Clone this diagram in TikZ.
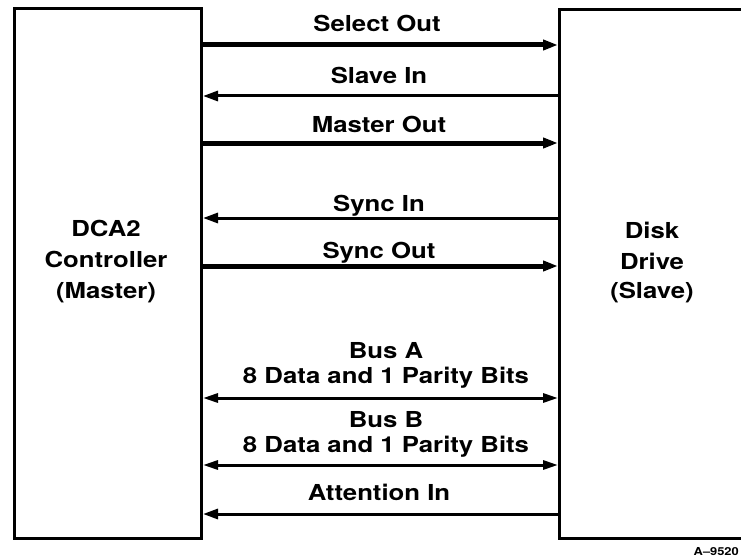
\documentclass[tikz,border=0pt]{standalone}
\usepackage{fontspec}
\setmainfont{TeX Gyre Heros}[FakeStretch=1.17]
\usetikzlibrary{arrows.meta}
\begin{document}
\begin{tikzpicture}[x=1pt,y=-1pt,
  lbl/.style={font=\fontsize{22}{26}\selectfont\bfseries, inner sep=0pt, anchor=base},
  tag/.style={font=\fontsize{11}{13}\selectfont\bfseries, inner sep=0pt, anchor=base east},
  unit/.style={draw, line width=3pt, inner sep=0pt},
  sig/.style={line width=3pt},
  sigthick/.style={line width=5pt},
  arrR/.style={-{Triangle[length=15pt,width=10pt]}},
  arrL/.style={{Triangle[length=15pt,width=10pt]}-},
  arrB/.style={{Triangle[length=15pt,width=9pt]}-{Triangle[length=15pt,width=9pt]}}
]
\useasboundingbox (0,0) rectangle (741,559);
\fill[white] (0,0) rectangle (741,559);
\clip (0,0) rectangle (741,559);

% units
\node[unit, minimum width=187pt, minimum height=530pt, anchor=north west] (master) at (13,7) {};
\node[unit, minimum width=200pt, minimum height=529pt, anchor=north west] (slave) at (558,8) {};

% unit texts
\node[lbl] (m1) at (106,236) {DCA2};
\node[lbl] (m2) at (106,267) {Controller};
\node[lbl] (m3) at (106,298) {(Master)};
\node[lbl] (s1) at (652,238) {Disk};
\node[lbl] (s2) at (652,269) {Drive};
\node[lbl] (s3) at (652,298) {(Slave)};

% signal rows
\coordinate (ySO) at (0,45);
\coordinate (ySI) at (0,96);
\coordinate (yMO) at (0,143);
\coordinate (ySyI) at (0,218);
\coordinate (ySyO) at (0,266);
\coordinate (yBA) at (0,398);
\coordinate (yBB) at (0,465);
\coordinate (yAI) at (0,514);

\draw[sigthick, arrR] (master.east |- ySO) -- (slave.west |- ySO);
\draw[sig, arrL] (master.east |- ySI) -- (slave.west |- ySI);
\draw[sigthick, arrR] (master.east |- yMO) -- (slave.west |- yMO);
\draw[sig, arrL] (master.east |- ySyI) -- (slave.west |- ySyI);
\draw[sigthick, arrR] (master.east |- ySyO) -- (slave.west |- ySyO);
\draw[sig, arrB] (master.east |- yBA) -- (slave.west |- yBA);
\draw[sig, arrB] (master.east |- yBB) -- (slave.west |- yBB);
\draw[sig, arrL] (master.east |- yAI) -- (slave.west |- yAI);

% signal labels
\node[lbl] (lSO) at (377,32) {Select Out};
\node[lbl] (lSI) at (379,84) {Slave In};
\node[lbl] (lMO) at (379,132) {Master Out};
\node[lbl] (lSyI) at (379,211) {Sync In};
\node[lbl] (lSyO) at (379,258) {Sync Out};
\node[lbl] (lBA1) at (386,358) {Bus A};
\node[lbl] (lBA2) at (386,383) {8 Data and 1 Parity Bits};
\node[lbl] (lBB1) at (386,427) {Bus B};
\node[lbl] (lBB2) at (386,452) {8 Data and 1 Parity Bits};
\node[lbl] (lAI) at (379,500) {Attention In};

\node[tag] (fig) at (739,555) {A–9520};
\end{tikzpicture}
\end{document}
